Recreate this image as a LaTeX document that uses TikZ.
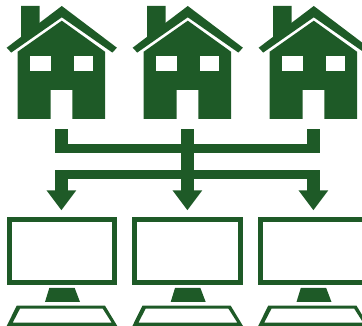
\documentclass[tikz,border=0pt]{standalone}
\usetikzlibrary{arrows.meta}
\definecolor{leaf}{HTML}{1E5A27}
\tikzset{
  ink/.style={fill=leaf,draw=none},
  hole/.style={fill=white,draw=none},
  feed/.style={draw=leaf,line width=12.5pt},
  feedto/.style={feed,-{Triangle[length=20pt,width=28.4pt]}},
  rail/.style={draw=leaf,line width=8.9pt,shorten <=-6.25pt,shorten >=-6.25pt},
  house/.pic={
    \path[ink] (21,6) -- (39.7,6) -- (39.7,30) -- (21,44) -- cycle;
    \path[ink] (61.8,6) -- (116.9,47.7) -- (112.4,52.6) -- (61.8,17.3) -- (11.2,52.6) -- (6.7,47.7) -- cycle;
    \path[ink] (61.8,20.7) -- (105,51.7) -- (105,119) -- (72.3,119) -- (72.3,90) -- (50.7,90) -- (50.7,119) -- (17.7,119) -- (17.7,51.7) -- cycle;
    \path[hole] (30.3,55.7) rectangle (50.7,71);
    \path[hole] (73.7,55.7) rectangle (92.7,71);
    \coordinate (-out) at (61.4,129.3);
  },
  computer/.pic={
    \draw[leaf,line width=5pt,fill=white] (9.2,219.2) rectangle (114.8,282.5);
    \path[ink] (49.3,288) -- (74.7,288) -- (80,302) -- (45,302) -- cycle;
    \path[ink,even odd rule] (16.7,305.7) -- (105,305.7) -- (117.3,326) -- (6.7,326) -- cycle
      (20,308.6) -- (102.7,308.6) -- (111.7,322.7) -- (12.7,322.7) -- cycle;
    \coordinate (-in) at (61.4,210.3);
  },
}
\begin{document}
\begin{tikzpicture}[x=1pt,y=-1pt]
  \useasboundingbox (0,0) rectangle (362,326);
  \clip (0,0) rectangle (362,326);
  % houses and computers
  \pic (hA) at (0,0) {house};
  \pic (hB) at (126,0) {house};
  \pic (hC) at (252,0) {house};
  \pic (pcA) at (0,0) {computer};
  \pic (pcB) at (125.7,0) {computer};
  \pic (pcC) at (251.5,0) {computer};
  \coordinate (upper) at (187.4,148.8);
  \coordinate (lower) at (187.4,174.7);
  % arrows
  \draw[rail] (hA-out |- upper) -- (hC-out |- upper);
  \draw[rail] (hA-out |- lower) -- (hC-out |- lower);
  \draw[feed] (hA-out) -- ([yshift=-4.4pt]hA-out |- upper);
  \draw[feed] (hC-out) -- ([yshift=-4.4pt]hC-out |- upper);
  \draw[feedto] (hB-out) -- (hB-out |- pcB-in);
  \draw[feedto] (hA-out |- lower) -- (hA-out |- pcA-in);
  \draw[feedto] (hC-out |- lower) -- (hC-out |- pcC-in);
\end{tikzpicture}
\end{document}
